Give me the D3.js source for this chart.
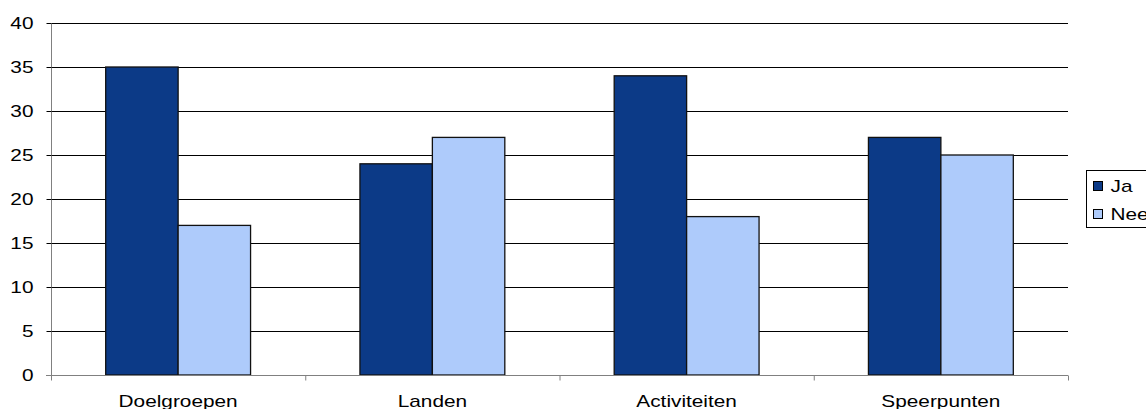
<!DOCTYPE html>
<html>
<head>
<meta charset="utf-8">
<script src="https://cdn.jsdelivr.net/npm/d3@7"></script>
<style>
	body { margin: 0; background: #fff; }
	text { font-family: "Liberation Sans", Arial, sans-serif; }
</style>
</head>
<body>
<svg width="1146" height="409"></svg>
<script>
// chart data
var categories = ['Doelgroepen', 'Landen', 'Activiteiten', 'Speerpunten'];
var seriesNames = ['Ja', 'Nee'];
var jaValues = [35, 24, 34, 27];
var neeValues = [17, 27, 18, 25];
var yTicks = [0, 5, 10, 15, 20, 25, 30, 35, 40];

var colors = { 'Ja': '#0C3A87', 'Nee': '#AECBFB' };

// the original text is drawn a bit wide
var stretch = 1.3;
var fontSize = 16;

var svg = d3.select('svg'),
	plotLeft = 51, plotRight = 1068, plotTop = 23, plotBottom = 375;

var x = d3.scaleBand().domain(categories).range([plotLeft, plotRight]).paddingInner(0).paddingOuter(0);
var xInner = d3.scaleBand().domain(seriesNames).range([0, x.bandwidth()]).paddingOuter(0.755).paddingInner(0);
var y = d3.scaleLinear().domain([0, 40]).range([plotBottom, plotTop]);

function wideText(sel, tx, ty){
	sel.attr('transform', 'translate(' + tx + ',' + ty + ') scale(' + stretch + ',1)')
		.attr('font-size', fontSize);
}

// gridlines
svg.append('g')
	.selectAll('line')
	.data(yTicks.filter(function(d){ return d > 0; }))
	.enter().append('line')
		.attr('x1', plotLeft).attr('x2', plotRight)
		.attr('y1', function(d){ return y(d) + 0.5; })
		.attr('y2', function(d){ return y(d) + 0.5; })
		.attr('stroke', '#000').attr('stroke-width', 1);

// bars
var rows = categories.map(function(c, i){
	return { cat: c, vals: [{ s: 'Ja', v: jaValues[i] }, { s: 'Nee', v: neeValues[i] }] };
});
svg.append('g')
	.selectAll('g')
	.data(rows)
	.enter().append('g')
		.attr('transform', function(d){ return 'translate(' + x(d.cat) + ',0)'; })
	.selectAll('rect')
	.data(function(d){ return d.vals; })
	.enter().append('rect')
		.attr('x', function(d){ return xInner(d.s); })
		.attr('y', function(d){ return y(d.v); })
		.attr('width', xInner.bandwidth())
		.attr('height', function(d){ return y(0) - y(d.v); })
		.attr('fill', function(d){ return colors[d.s]; })
		.attr('stroke', '#111').attr('stroke-width', 1.3);

// y axis
var yAxis = d3.axisLeft(y).tickValues(yTicks).tickSize(5).tickPadding(13);
var gy = svg.append('g').attr('transform', 'translate(' + (plotLeft + 0.5) + ',0)').call(yAxis);
gy.attr('font-family', null);
gy.select('.domain').attr('stroke', '#808080').attr('d', 'M0,' + plotTop + 'V' + (plotBottom + 5));
gy.selectAll('.tick line').attr('stroke', '#000');
gy.selectAll('.tick text')
	.attr('fill', '#000')
	.attr('x', null)
	.each(function(){ wideText(d3.select(this), -18, 0); });

// x axis
var gx = svg.append('g').attr('transform', 'translate(0,' + (plotBottom + 0.5) + ')');
gx.append('line').attr('x1', plotLeft - 5).attr('x2', plotRight).attr('stroke', '#808080');
gx.selectAll('line.cat')
	.data(categories.map(function(c){ return x(c); }).concat([plotRight]))
	.enter().append('line')
		.attr('class', 'cat')
		.attr('x1', function(d){ return d + 0.5; }).attr('x2', function(d){ return d + 0.5; })
		.attr('y1', 0).attr('y2', 5)
		.attr('stroke', '#808080');
gx.selectAll('text')
	.data(categories)
	.enter().append('text')
		.attr('text-anchor', 'middle')
		.text(function(d){ return d; })
		.each(function(d){ wideText(d3.select(this), x(d) + x.bandwidth() / 2, 31); });

// legend
var legend = svg.append('g').attr('transform', 'translate(1086.5,170.5)');
legend.append('rect').attr('width', 80).attr('height', 57).attr('fill', '#fff').attr('stroke', '#000');
var items = legend.selectAll('g.item')
	.data(seriesNames)
	.enter().append('g')
		.attr('class', 'item')
		.attr('transform', function(d, i){ return 'translate(7,' + (11 + i * 28) + ')'; });
items.append('rect').attr('width', 9).attr('height', 9)
	.attr('fill', function(d){ return colors[d]; }).attr('stroke', '#000');
items.append('text').text(function(d){ return d; })
	.each(function(){ wideText(d3.select(this), 17, 10); });
</script>
</body>
</html>
